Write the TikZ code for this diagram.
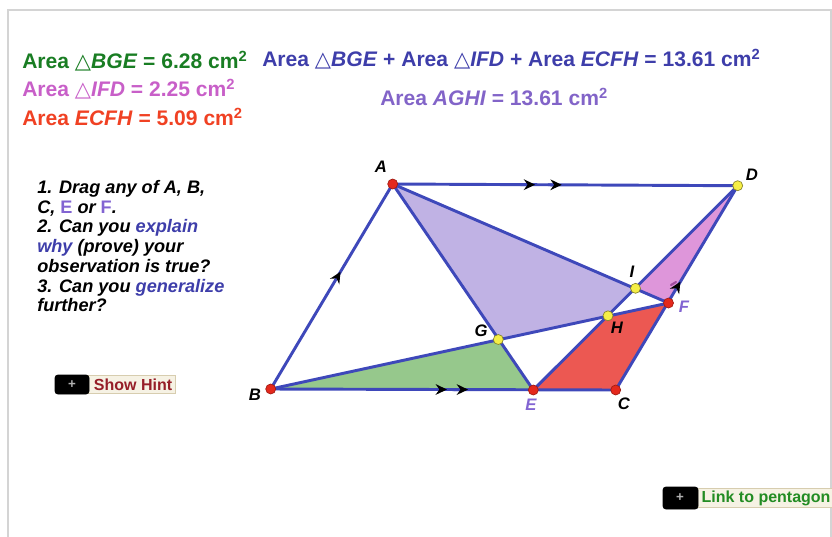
\documentclass[tikz,border=0pt]{standalone}
\usepackage{fontspec}
\setmainfont{Liberation Sans}
\newfontfamily\dv{DejaVu Sans}
\usetikzlibrary{arrows.meta,calc}
\definecolor{lineblue}{RGB}{62,72,186}
\definecolor{agreen}{RGB}{25,125,35}
\definecolor{apink}{RGB}{200,95,200}
\definecolor{ared}{RGB}{240,65,35}
\definecolor{ablue}{RGB}{62,62,170}
\definecolor{apurple}{RGB}{130,100,200}
\definecolor{epurple}{RGB}{130,100,210}
\definecolor{fillpurple}{RGB}{192,178,228}
\definecolor{fillgreen}{RGB}{150,200,140}
\definecolor{fillred}{RGB}{236,88,82}
\definecolor{fillpink}{RGB}{222,150,218}
\definecolor{dotred}{RGB}{228,40,28}
\definecolor{dotyellow}{RGB}{245,238,70}
\definecolor{hintred}{RGB}{150,30,40}
\definecolor{btnbg}{RGB}{246,242,228}
\definecolor{btnedge}{RGB}{215,205,175}
\definecolor{linkgreen}{RGB}{35,140,35}
\definecolor{framegray}{RGB}{212,212,212}
\tikzset{
  area/.style={anchor=west,inner sep=0pt,font=\fontsize{15.8}{18}\selectfont\bfseries},
  seg/.style={draw=lineblue,line width=2.2pt,line join=round},
  redpt/.style={circle,fill=dotred,draw=dotred!70!black,line width=0.5pt,inner sep=0pt,minimum size=7.5pt},
  yelpt/.style={circle,fill=dotyellow,draw=dotyellow!55!black,line width=0.5pt,inner sep=0pt,minimum size=7.5pt},
  ptlabel/.style={inner sep=0pt,font=\fontsize{12.5}{14}\selectfont\bfseries\itshape},
  marker/.style={draw=lineblue,line width=2.2pt,-{Stealth[black,length=8.5pt,width=8pt,inset=2.8pt]}},
  btnblack/.style={fill=black,rounded corners=2pt,draw=black},
  btnlabel/.style={fill=btnbg,draw=btnedge,line width=0.6pt,inner sep=0pt,anchor=west,font=\fontsize{12}{13}\selectfont\bfseries}
}
\newcommand{\tri}{{\dv\mdseries\upshape △}}
\begin{document}
\begin{tikzpicture}[x=0.75pt,y=-0.75pt]
\useasboundingbox (0,0) rectangle (832,536);
% frame
\draw[framegray,line width=1.6pt] (8,545) -- (8,10) -- (831,10) -- (831,545);

% points
\coordinate (A) at (392.7,184);
\coordinate (D) at (737.7,185.7);
\coordinate (B) at (270.7,389);
\coordinate (C) at (615.7,390);
\coordinate (E) at (533.3,390);
\coordinate (F) at (668.5,303);
\coordinate (G) at (498.3,339.5);
\coordinate (H) at (608,315.8);
\coordinate (I) at (635.5,288.3);

% fills
\fill[fillpurple] (A) -- (G) -- (H) -- (I) -- cycle;
\fill[fillgreen] (B) -- (G) -- (E) -- cycle;
\fill[fillred] (E) -- (C) -- (F) -- (H) -- cycle;
\fill[fillpink] (I) -- (F) -- (D) -- cycle;

% segments
\draw[seg] (A) -- (B);
\draw[seg] (A) -- (D);
\draw[seg] (B) -- (C);
\draw[seg] (C) -- (D);
\draw[seg] (A) -- (E);
\draw[seg] (A) -- (F);
\draw[seg] (B) -- (F);
\draw[seg] (E) -- (D);

% parallel markers
\draw[marker] ($(A)!0.37!(D)$) -- ($(A)!0.413!(D)$);
\draw[marker] ($(A)!0.45!(D)$) -- ($(A)!0.49!(D)$);
\draw[marker] ($(B)!0.47!(C)$) -- ($(B)!0.511!(C)$);
\draw[marker] ($(B)!0.53!(C)$) -- ($(B)!0.572!(C)$);
\draw[marker] ($(B)!0.53!(A)$) -- ($(B)!0.572!(A)$);
\draw[marker] ($(C)!0.49!(D)$) -- ($(C)!0.53!(D)$);
\draw[apink!80!black,line width=1.6pt,line cap=round] (671,285) -- (676,282);

% dots
\node[redpt] (pA) at (A) {};
\node[yelpt] (pD) at (D) {};
\node[redpt] (pB) at (B) {};
\node[redpt] (pC) at (C) {};
\node[redpt] (pE) at (E) {};
\node[redpt] (pF) at (F) {};
\node[yelpt] (pG) at (G) {};
\node[yelpt] (pH) at (H) {};
\node[yelpt] (pI) at (I) {};

% point labels
\node[ptlabel] (lA) at (381,167) {A};
\node[ptlabel] (lD) at (752,175) {D};
\node[ptlabel] (lB) at (255,395) {B};
\node[ptlabel] (lC) at (624,404) {C};
\node[ptlabel,text=epurple] (lE) at (531,405) {E};
\node[ptlabel,text=epurple] (lF) at (684,307) {F};
\node[ptlabel] (lI) at (632,272) {I};
\node[ptlabel] (lH) at (617,328) {H};
\node[ptlabel] (lG) at (481,331) {G};

% area texts
\node[area,text=agreen] (t1) at (22,61) {Area \tri\textit{BGE} = 6.28 cm\textsuperscript{2}};
\node[area,text=apink] (t2) at (22,89) {Area \tri\textit{IFD} = 2.25 cm\textsuperscript{2}};
\node[area,text=ared] (t3) at (22,117) {Area \textit{ECFH} = 5.09 cm\textsuperscript{2}};
\node[area,text=ablue] (t4) at (262,59) {Area \tri\textit{BGE} + Area \tri\textit{IFD} + Area \textit{ECFH} = 13.61 cm\textsuperscript{2}};
\node[area,text=apurple] (t5) at (380,97) {Area \textit{AGHI} = 13.61 cm\textsuperscript{2}};

% instructions
\node[anchor=north west,inner sep=0pt,align=left,font=\fontsize{13.6}{14.8}\selectfont\bfseries\itshape] (instr) at (37,180) {%
1. Drag any of A, B,\\
C, {\upshape\color{epurple}E} or {\upshape\color{epurple}F}.\\
2. Can you {\color{ablue}explain}\\
{\color{ablue}why} (prove) your\\
observation is true?\\
3. Can you {\color{ablue}generalize}\\
further?};

% buttons
\node[btnlabel,text=hintred,minimum width=65pt,minimum height=13.5pt] (hint) at (88,384.5) {\hspace{2pt}Show Hint};
\filldraw[btnblack] (55,375) rectangle (89,394);
\node[text=gray!60,font=\bfseries\fontsize{10}{10}\selectfont,inner sep=0pt] (hplus) at (72,384.5) {+};

\node[btnlabel,text=linkgreen,minimum width=101pt,minimum height=14pt] (link) at (697,498) {\hspace{2pt}Link to pentagon};
\filldraw[btnblack] (663,487) rectangle (698,509);
\node[text=gray!60,font=\bfseries\fontsize{10}{10}\selectfont,inner sep=0pt] (lplus) at (680,498) {+};
\end{tikzpicture}
\end{document}
